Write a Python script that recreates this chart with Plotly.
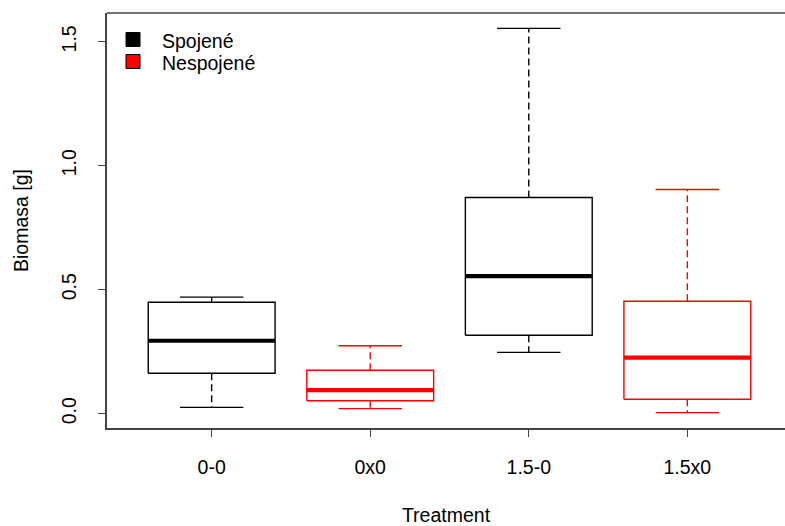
import plotly.graph_objects as go

# ---- data ----
categories = ["0-0", "0x0", "1.5-0", "1.5x0"]
groups = ["Spojené", "Nespojené", "Spojené", "Nespojené"]
lower_whisker = [0.025, 0.020, 0.247, 0.004]
q1 = [0.163, 0.052, 0.316, 0.058]
median = [0.294, 0.095, 0.555, 0.226]
q3 = [0.449, 0.175, 0.872, 0.453]
upper_whisker = [0.470, 0.274, 1.554, 0.904]
y_tickvals = [0.0, 0.5, 1.0, 1.5]
y_ticktext = ["0.0", "0.5", "1.0", "1.5"]
legend_labels = ["Spojené", "Nespojené"]
group_colors = {"Spojené": "black", "Nespojené": "#ff0000"}

# ---- style ----
W, H = 785, 526
ML, MR, MT, MB = 107, 0, 13, 98
FONT = "Liberation Sans, Arial, sans-serif"
FS = 19.5
BOX_HALF = 0.4
CAP_HALF = 0.2
AXIS_COL = "#444444"

positions = list(range(1, len(categories) + 1))

fig = go.Figure()
for i, x in enumerate(positions):
    col = group_colors[groups[i]]
    lw = 1.4
    # whiskers (dashed)
    fig.add_trace(go.Scatter(
        x=[x, x, None, x, x],
        y=[q3[i], upper_whisker[i], None, q1[i], lower_whisker[i]],
        mode="lines", line=dict(color=col, width=lw, dash="7px,4px"),
        showlegend=False, hoverinfo="skip"))
    # caps
    fig.add_trace(go.Scatter(
        x=[x - CAP_HALF, x + CAP_HALF, None, x - CAP_HALF, x + CAP_HALF],
        y=[upper_whisker[i], upper_whisker[i], None, lower_whisker[i], lower_whisker[i]],
        mode="lines", line=dict(color=col, width=lw),
        showlegend=False, hoverinfo="skip"))
    # box
    fig.add_trace(go.Scatter(
        x=[x - BOX_HALF, x + BOX_HALF, x + BOX_HALF, x - BOX_HALF, x - BOX_HALF],
        y=[q1[i], q1[i], q3[i], q3[i], q1[i]],
        mode="lines", line=dict(color=col, width=lw),
        showlegend=False, hoverinfo="skip"))
    # median
    fig.add_trace(go.Scatter(
        x=[x - BOX_HALF, x + BOX_HALF], y=[median[i], median[i]],
        mode="lines", line=dict(color=col, width=4.2),
        showlegend=False, hoverinfo="skip"))

# y range: R style 4% extension of data range
ymin = min(lower_whisker)
ymax = max(upper_whisker)
pad = 0.04 * (ymax - ymin)
# x range: R xlim [0.5, n+0.5] extended 4%; right side cropped at image edge
n = len(categories)
x0 = 0.5 - 0.04 * n
x1_full = n + 0.5 + 0.04 * n
x1 = x0 + (x1_full - x0) * (W - ML) / 685.0

fig.update_layout(
    width=W, height=H,
    margin=dict(l=ML, r=MR, t=MT, b=MB),
    paper_bgcolor="white", plot_bgcolor="white",
    font=dict(family=FONT, size=FS, color="black"),
    showlegend=False,
    xaxis=dict(
        range=[x0, x1], tickmode="array", tickvals=positions, ticktext=categories,
        ticks="outside", ticklen=7, tickcolor=AXIS_COL, tickwidth=1.4,
        showline=True, linecolor=AXIS_COL, linewidth=1.6,
        showgrid=False, zeroline=False, ticklabelstandoff=14,
        tickfont=dict(size=FS, color="black"),
        title=dict(text="Treatment", font=dict(size=FS), standoff=33),
    ),
    yaxis=dict(
        range=[ymin - pad, ymax + pad], tickmode="array",
        tickvals=y_tickvals, ticktext=y_ticktext, tickangle=-90,
        ticks="outside", ticklen=7, tickcolor=AXIS_COL, tickwidth=1.4,
        showline=True, linecolor=AXIS_COL, linewidth=1.6,
        showgrid=False, zeroline=False, ticklabelstandoff=14,
        tickfont=dict(size=FS, color="black"),
        title=dict(text="Biomasa [g]", font=dict(size=FS), standoff=25),
    ),
)

# top frame line (right frame edge falls outside the image)
fig.add_shape(type="line", xref="paper", yref="paper", x0=0, x1=1, y0=1, y1=1,
              line=dict(color=AXIS_COL, width=1.6))

# legend (R-style, drawn in plot-pixel terms)
PW = W - ML - MR
PH = H - MT - MB
def px(xpix):
    return (xpix - ML) / PW
def py(ypix):
    return (H - MB - ypix) / PH

sq_left, sq_size, row0, row_gap, text_x = 126, 14, 39.5, 22, 160
for k, lab in enumerate(legend_labels):
    cy = row0 + k * row_gap
    fig.add_shape(type="rect", xref="paper", yref="paper",
                  x0=px(sq_left), x1=px(sq_left + sq_size),
                  y0=py(cy + sq_size / 2), y1=py(cy - sq_size / 2),
                  fillcolor=group_colors[lab], line=dict(color="black", width=1))
    fig.add_annotation(xref="paper", yref="paper", x=px(text_x), y=py(cy + 1),
                       text=lab, showarrow=False, xanchor="left", yanchor="middle",
                       font=dict(size=FS, color="black", family=FONT))

fig.write_html("out.html",
               config={"displayModeBar": False},
               post_script="document.body.style.margin='0';document.body.style.overflow='hidden';")
